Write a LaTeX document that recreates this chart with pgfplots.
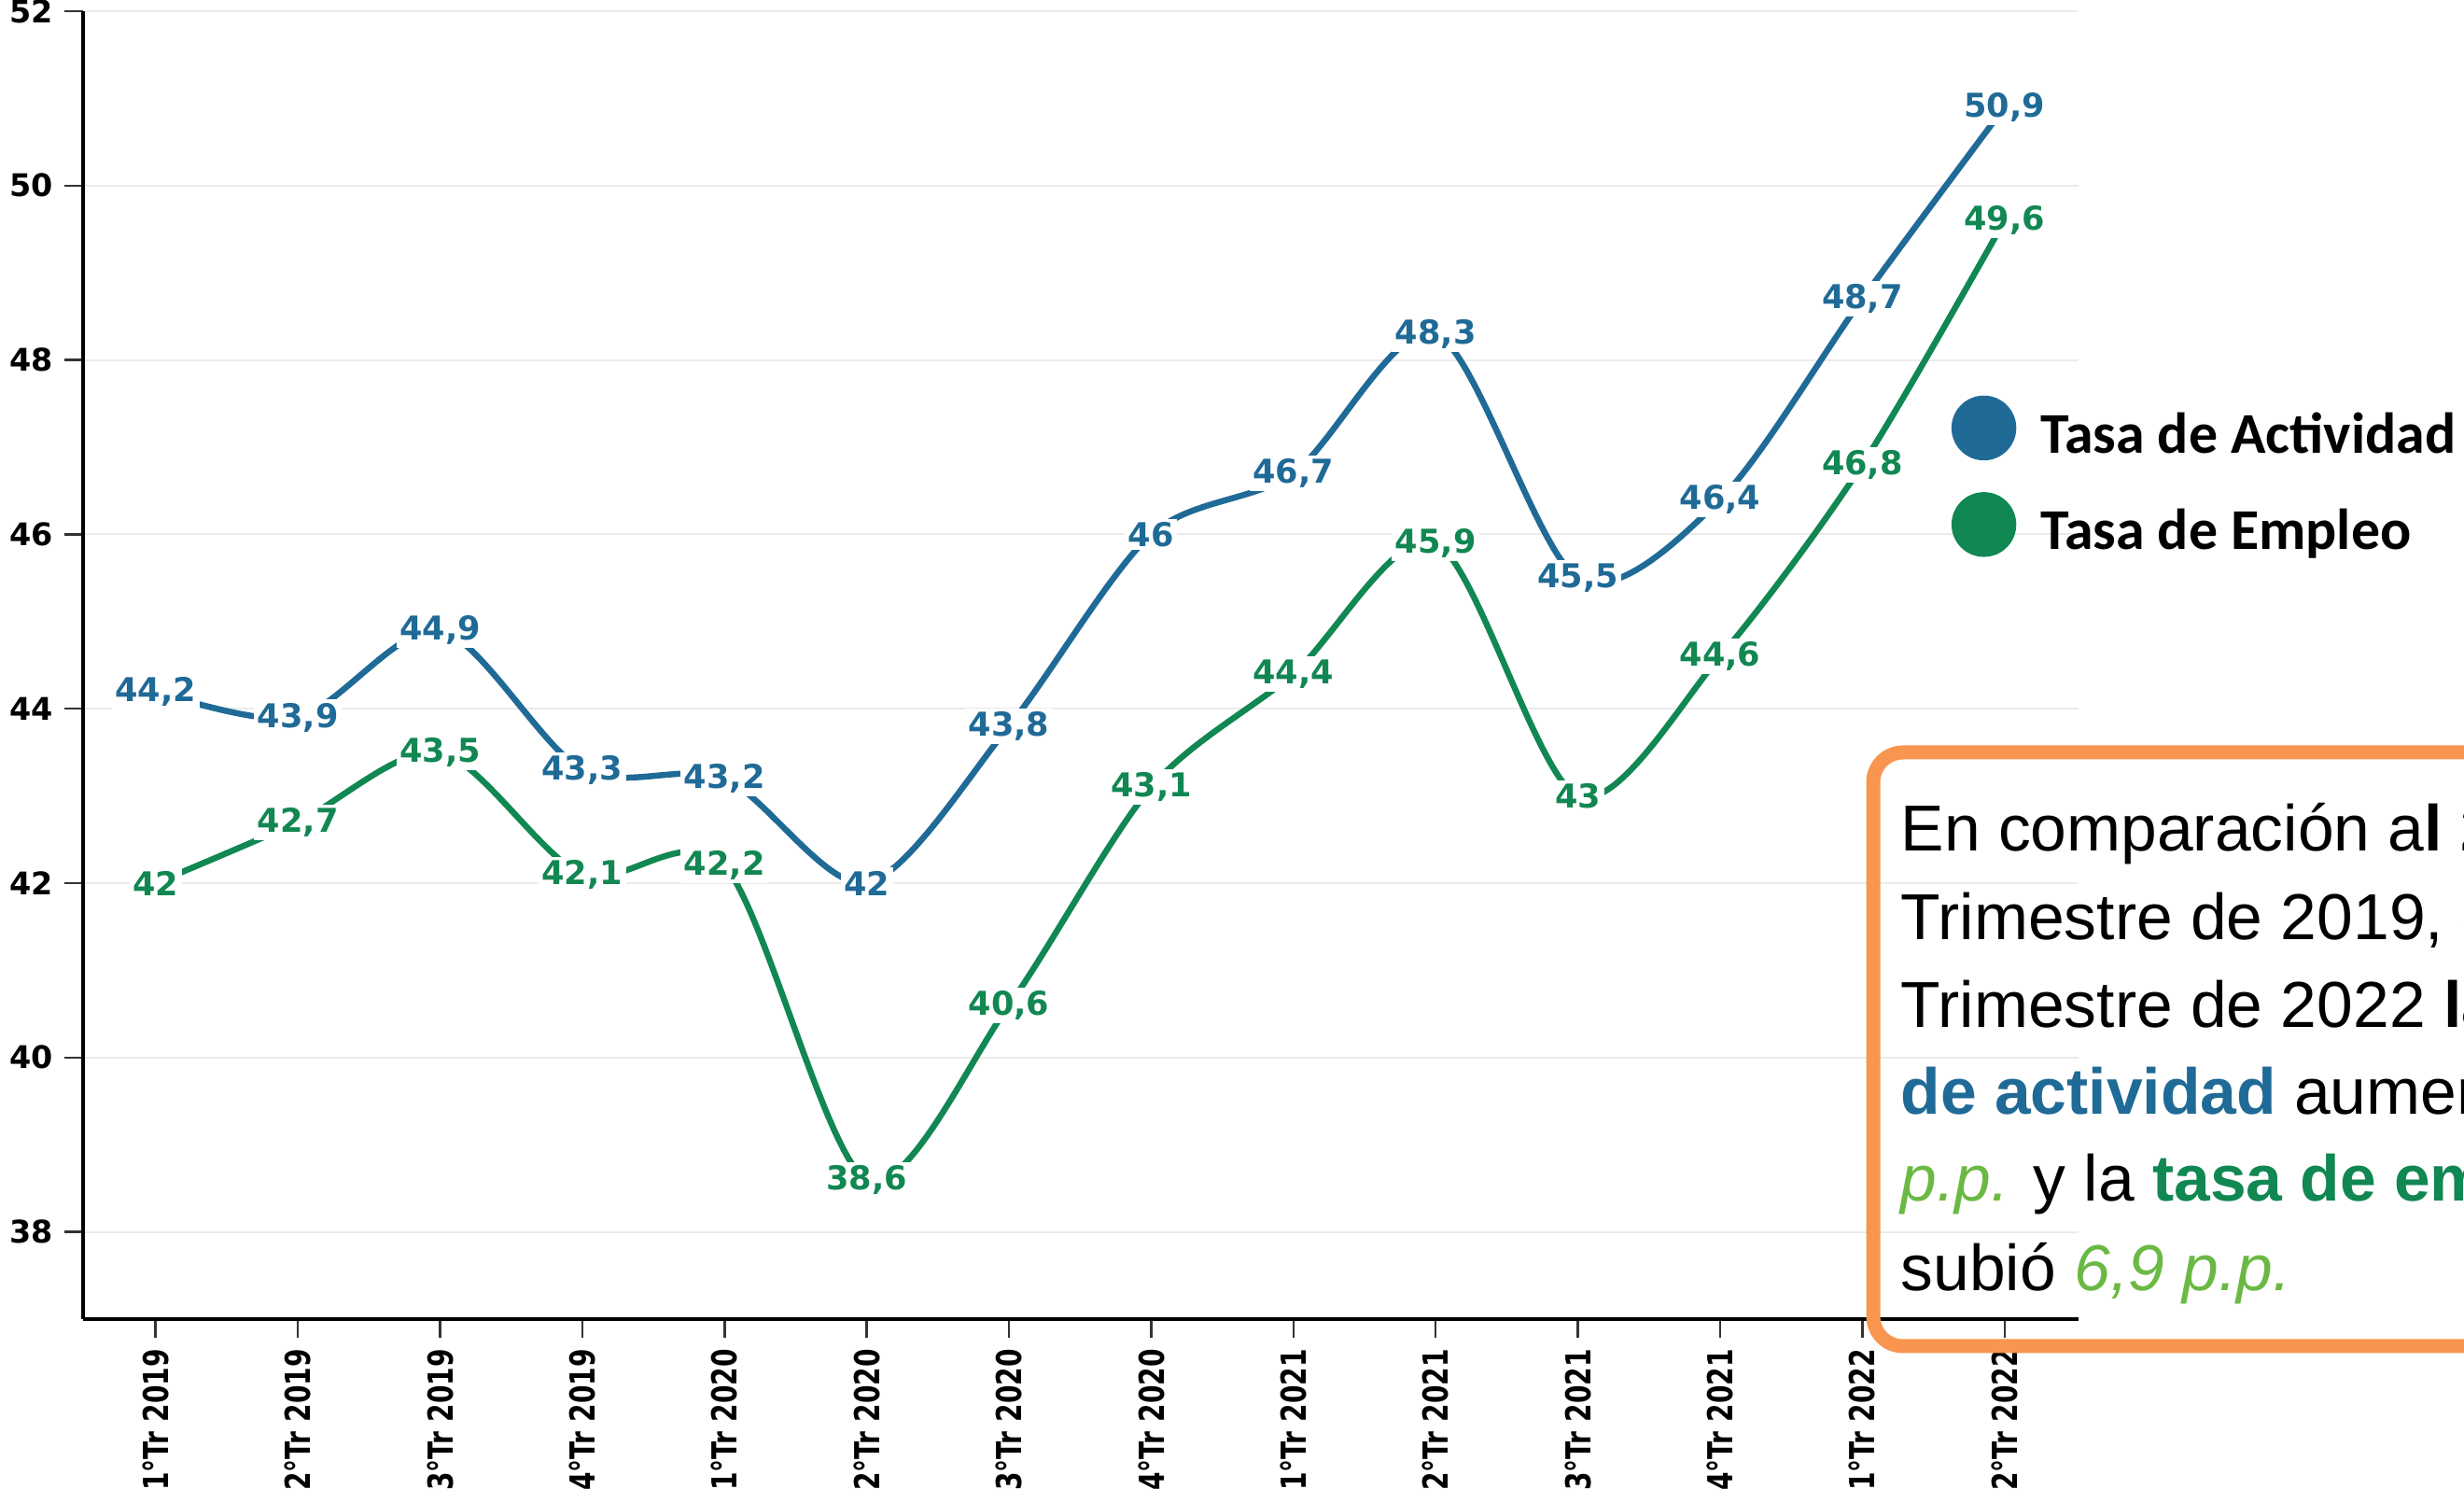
\documentclass[border=0pt]{standalone}
\usepackage{fontspec}
\usepackage{graphicx}
\usepackage{pgfplots}
\pgfplotsset{compat=1.18}
\setmainfont{Liberation Sans}
\newfontfamily\dejavu{DejaVu Sans}
\newfontfamily\carlito{Carlito}
\definecolor{cact}{HTML}{1F6A96}
\definecolor{cemp}{HTML}{118752}
\definecolor{corange}{HTML}{F8954F}
\definecolor{clgreen}{HTML}{6BB944}
\definecolor{cgrid}{HTML}{EBEBEB}
\newcommand\xl[1]{\scalebox{0.76}[1]{#1}}
\begin{document}
\begin{tikzpicture}
\useasboundingbox (0,0) rectangle (26.4cm,16.1cm);
\clip (0,0) rectangle (26.4cm,16.1cm);
\begin{axis}[
  at={(0.89cm,1.97cm)}, anchor=south west,
  scale only axis, width=21.38cm, height=14.01cm,
  xmin=-0.51, xmax=13.52, ymin=37, ymax=52,
  axis x line*=bottom, axis y line*=left,
  axis line style={line width=0.9pt, black},
  xtick={0,...,13},
  xticklabels={\xl{1°Tr 2019},\xl{2°Tr 2019},\xl{3°Tr 2019},\xl{4°Tr 2019},\xl{1°Tr 2020},\xl{2°Tr 2020},\xl{3°Tr 2020},\xl{4°Tr 2020},\xl{1°Tr 2021},\xl{2°Tr 2021},\xl{3°Tr 2021},\xl{4°Tr 2021},\xl{1°Tr 2022},\xl{2°Tr 2022}},
  ytick={38,40,42,44,46,48,50,52},
  yticklabels={38,40,42,44,46,48,50,52},
  ymajorgrids, grid style={line width=0.6pt, cgrid},
  tick align=outside, major tick length=0.2cm,
  tick style={line width=0.7pt, black!80},
  xticklabel style={rotate=90, anchor=east, font=\dejavu\bfseries\fontsize{10.5pt}{12pt}\selectfont},
  yticklabel style={font=\dejavu\bfseries\fontsize{9.5pt}{11pt}\selectfont},
  legend style={at={(0.936,0.7066)}, anchor=north west, draw=none, fill=none,
    font=\carlito\bfseries\fontsize{17.6pt}{20pt}\selectfont, inner sep=0pt,
    row sep=0.34cm, column sep=0.26cm, nodes={inner sep=0pt}},
  legend cell align=left,
  every node near coord/.append style={anchor=center, fill=white, inner sep=1pt,
    font=\dejavu\bfseries\fontsize{10pt}{12pt}\selectfont},
]
\addlegendimage{legend image code/.code={\fill[cact] (0.34cm,0.08cm) circle (0.34cm);}}
\addlegendimage{legend image code/.code={\fill[cemp] (0.34cm,0.08cm) circle (0.34cm);}}
\addplot[cact, line width=1.85pt, smooth, forget plot, nodes near coords, point meta=explicit symbolic,
  every node near coord/.append style={text=cact}] coordinates {
  (0,44.2)[44,2] (1,43.9)[43,9] (2,44.9)[44,9] (3,43.3)[43,3] (4,43.2)[43,2]
  (5,42.0)[42] (6,43.8)[43,8] (7,46.0)[46] (8,46.7)[46,7] (9,48.3)[48,3]
  (10,45.5)[45,5] (11,46.4)[46,4] (12,48.7)[48,7] (13,50.9)[50,9]
};
\addplot[cemp, line width=1.85pt, smooth, forget plot, nodes near coords, point meta=explicit symbolic,
  every node near coord/.append style={text=cemp}] coordinates {
  (0,42.0)[42] (1,42.7)[42,7] (2,43.5)[43,5] (3,42.1)[42,1] (4,42.2)[42,2]
  (5,38.6)[38,6] (6,40.6)[40,6] (7,43.1)[43,1] (8,44.4)[44,4] (9,45.9)[45,9]
  (10,43.0)[43] (11,44.6)[44,6] (12,46.8)[46,8] (13,49.6)[49,6]
};
\legend{Tasa de Actividad, Tasa de Empleo}
\end{axis}
\draw[corange, line width=0.15cm, rounded corners=0.32cm] (20.07cm,8.04cm) rectangle (28cm,1.68cm);
\begin{scope}[every node/.style={anchor=base west, inner sep=0pt, font=\fontsize{19.8pt}{23pt}\selectfont}]
\node at (20.36cm,6.98cm) {En comparación a\textbf{l 2° Trimestre}};
\node at (20.36cm,6.03cm) {Trimestre de 2019, en el 2°};
\node at (20.36cm,5.09cm) {Trimestre de 2022 \textbf{la \color{cact}tasa}};
\node at (20.36cm,4.16cm) {\textbf{\color{cact}de actividad} aumentó \textit{\color{clgreen}7}};
\node at (20.36cm,3.23cm) {\textit{\color{clgreen}p.p.} y la \textbf{\color{cemp}tasa de empleo}};
\node at (20.36cm,2.27cm) {subió \textit{\color{clgreen}6,9 p.p.}};
\end{scope}
\end{tikzpicture}
\end{document}
